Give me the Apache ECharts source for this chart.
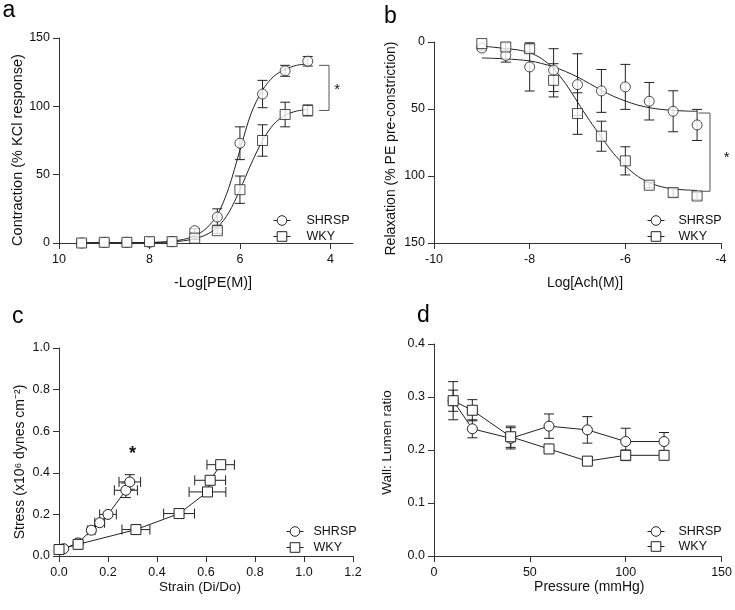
<!DOCTYPE html>
<html>
<head>
<meta charset="utf-8">
<script src="https://cdn.jsdelivr.net/npm/echarts@6/dist/echarts.min.js"></script>
<style>
  html, body { margin: 0; padding: 0; background: #fff; }
  #chart { width: 735px; height: 610px; }
</style>
</head>
<body>
<div id="chart"></div>
<script>
// ---- panel a: contraction to PE ----
const aDose = [9.5, 9, 8.5, 8, 7.5, 7, 6.5, 6, 5.5, 5, 4.5];
const aShrsp = [0, 0.5, 0.5, 0.5, 1, 9, 19, 73, 109, 126, 133];
const aShrspErr = [0, 0, 0, 0, 0, 1.5, 6, 12, 10, 4, 3.5];
const aWky = [0, 0.5, 0.5, 1, 1, 3.5, 9, 39, 75, 94, 97];
const aWkyErr = [0, 0, 0, 0, 0, 1, 2, 10, 11.5, 9, 4];
// fitted curves
const aFitDose = [9.5, 9.25, 9, 8.75, 8.5, 8.25, 8, 7.75, 7.5, 7.25, 7, 6.75, 6.5, 6.25, 6, 5.75, 5.5, 5.25, 5, 4.75, 4.5];
const aShrspFit = [0.2, 0.2, 0.2, 0.2, 0.2, 0.3, 0.35, 0.7, 1.3, 2.6, 5.2, 10.5, 20.5, 40, 68, 95, 112, 122, 127, 130, 131];
const aWkyFit = [0.2, 0.2, 0.2, 0.2, 0.2, 0.25, 0.3, 0.45, 0.8, 1.6, 3.1, 6, 11.4, 22, 39, 58, 75, 87, 93.5, 96.5, 97.7];
const aTicks = [4, 6, 8, 10];

// ---- panel b: relaxation to Ach ----
const bDose = [-9, -8.5, -8, -7.5, -7, -6.5, -6, -5.5, -5, -4.5];
const bShrsp = [4.5, 10, 18.6, 21, 31.8, 36.5, 33.5, 44.2, 51.7, 61.9];
const bShrspErr = [1.5, 5, 18, 16, 23, 16, 16.8, 14, 15.3, 11.6];
const bWky = [1.2, 3.7, 5, 28.6, 53.4, 70.3, 88.7, 106.9, 112.4, 114.9];
const bWkyErr = [0, 3, 3, 12.4, 15.5, 11.2, 10.5, 2, 3, 2.5];
const bFitDose = [-9, -8.75, -8.5, -8.25, -8, -7.75, -7.5, -7.25, -7, -6.75, -6.5, -6.25, -6, -5.75, -5.5, -5.25, -5, -4.75, -4.5];
const bShrspFit = [11.9, 12.2, 12.6, 13.2, 14.1, 16, 18.6, 22, 26.1, 31, 36, 40.5, 44, 47, 49, 50.3, 51, 51.5, 51.7];
const bWkyFit = [3, 3.9, 4.9, 5.9, 8, 12.4, 19.9, 31, 44.8, 58.5, 71, 83, 92.5, 100, 105, 108, 109.6, 110.4, 110.8];

// ---- panel c: stress / strain ----
const cShrspX = [0.019, 0.078, 0.132, 0.166, 0.2, 0.273, 0.289];
const cShrspY = [0.035, 0.063, 0.124, 0.16, 0.2, 0.316, 0.356];
const cShrspXErr = [0.005, 0.01, 0.015, 0.02, 0.034, 0.047, 0.044];
const cShrspYErr = [0.005, 0.005, 0.01, 0.01, 0.01, 0.035, 0.035];
const cWkyX = [0.0, 0.078, 0.314, 0.49, 0.606, 0.617, 0.66];
const cWkyY = [0.031, 0.056, 0.127, 0.204, 0.308, 0.364, 0.439];
const cWkyXErr = [0.005, 0.01, 0.057, 0.063, 0.075, 0.063, 0.056];
const cWkyYErr = [0, 0.005, 0.005, 0.005, 0.01, 0.01, 0.01];

// ---- panel d: wall:lumen vs pressure ----
const dPressure = [10, 20, 40, 60, 80, 100, 120];
const dShrsp = [0.293, 0.24, 0.222, 0.245, 0.238, 0.216, 0.216];
const dShrspErr = [0.036, 0.017, 0.02, 0.023, 0.025, 0.025, 0.017];
const dWky = [0.293, 0.275, 0.225, 0.202, 0.179, 0.19, 0.19];
const dWkyErr = [0.02, 0.02, 0.02, 0.004, 0.004, 0.01, 0.006];

// significance marks: bracket [tipX, spineX, yTop, yBottom], star [x, y]
const aBracket = [4.25, 4.03, 130, 97];
const aStar = [3.85, 114.8];
const bBracket = [-4.47, -4.23, 53, 111.4];
const bStar = [-3.88, 83.8];
const cStar = [0.30, 0.508];

const FONT = "'Liberation Sans', Arial, sans-serif";
const INK = '#222';
const fix1 = v => v.toFixed(1);

function axis(gridIndex, o) {
  return {
    gridIndex: gridIndex, type: 'value', nameLocation: 'middle',
    min: o.min, max: o.max, interval: o.interval, inverse: !!o.inverse,
    name: o.name, nameGap: o.nameGap,
    nameTextStyle: { color: '#111', fontSize: o.nameSize, fontFamily: FONT, padding: o.namePad },
    axisLine: { show: true, onZero: false, lineStyle: { color: '#333', width: 1 } },
    axisTick: { show: true, length: 6, lineStyle: { color: '#333' }, customValues: o.ticks },
    axisLabel: { color: '#111', fontSize: 12.5, fontFamily: FONT, margin: o.margin, formatter: o.fmt, customValues: o.ticks },
    splitLine: { show: false }
  };
}

function zip(xs, ys) { return xs.map((x, i) => [x, ys[i]]); }

function errRender(params, api) {
  const x = api.value(0), y = api.value(1), ex = api.value(2), ey = api.value(3);
  const st = { stroke: INK, lineWidth: 1, fill: null };
  const cap = 5;
  const kids = [];
  const seg = (x1, y1, x2, y2) => kids.push({ type: 'line', shape: { x1, y1, x2, y2 }, style: st });
  if (ey > 0) {
    const p = api.coord([x, y + ey]), q = api.coord([x, y - ey]);
    seg(p[0], p[1], q[0], q[1]);
    seg(p[0] - cap, p[1], p[0] + cap, p[1]);
    seg(q[0] - cap, q[1], q[0] + cap, q[1]);
  }
  if (ex > 0) {
    const p = api.coord([x - ex, y]), q = api.coord([x + ex, y]);
    seg(p[0], p[1], q[0], q[1]);
    seg(p[0], p[1] - cap, p[0], p[1] + cap);
    seg(q[0], q[1] - cap, q[0], q[1] + cap);
  }
  return { type: 'group', children: kids };
}

function errors(idx, xs, ys, xe, ye) {
  return {
    type: 'custom', name: 'err', xAxisIndex: idx, yAxisIndex: idx, z: 2, silent: true,
    encode: { x: 0, y: 1 },
    data: xs.map((x, i) => [x, ys[i], xe ? xe[i] : 0, ye ? ye[i] : 0]),
    renderItem: errRender
  };
}

function bracket(idx, b) {
  return {
    type: 'custom', name: 'sig', xAxisIndex: idx, yAxisIndex: idx, z: 2, silent: true, clip: false,
    data: [b],
    renderItem: function (params, api) {
      const p1 = api.coord([api.value(0), api.value(2)]);
      const p2 = api.coord([api.value(1), api.value(2)]);
      const p3 = api.coord([api.value(1), api.value(3)]);
      const p4 = api.coord([api.value(0), api.value(3)]);
      return { type: 'polyline', shape: { points: [p1, p2, p3, p4] }, style: { stroke: '#555', lineWidth: 1, fill: null } };
    }
  };
}

function star(idx, s, size, weight) {
  return {
    type: 'custom', name: 'star', xAxisIndex: idx, yAxisIndex: idx, z: 5, silent: true, clip: false,
    data: [s],
    renderItem: function (params, api) {
      const p = api.coord([api.value(0), api.value(1)]);
      return { type: 'text', x: p[0], y: p[1] + size * 0.22,
        style: { text: '*', fontSize: size, fontWeight: weight, fontFamily: FONT, fill: '#111', align: 'center', verticalAlign: 'middle' } };
    }
  };
}

const markerStyle = { color: '#fff', borderColor: INK, borderWidth: 1 };

function fit(idx, name, symbol, xs, ys) {
  return {
    type: 'line', name: name, xAxisIndex: idx, yAxisIndex: idx, z: 3,
    data: zip(xs, ys), smooth: 0.3,
    symbol: symbol, showSymbol: false, itemStyle: markerStyle,
    lineStyle: { color: INK, width: 1 }, emphasis: { disabled: true }, silent: true
  };
}

function points(idx, name, symbol, xs, ys) {
  return {
    type: 'scatter', name: name, xAxisIndex: idx, yAxisIndex: idx, z: 4,
    data: zip(xs, ys), symbol: symbol, symbolSize: 10,
    itemStyle: markerStyle, emphasis: { disabled: true }, silent: true
  };
}

function connected(idx, name, symbol, xs, ys) {
  return {
    type: 'line', name: name, xAxisIndex: idx, yAxisIndex: idx, z: 4,
    data: zip(xs, ys), symbol: symbol, symbolSize: 10, showSymbol: true, showAllSymbol: true,
    itemStyle: markerStyle, lineStyle: { color: INK, width: 1 },
    emphasis: { disabled: true }, silent: true, clip: false
  };
}

function legendAt(left, top, gap, pad) {
  return {
    left: left, top: top, orient: 'vertical', data: ['SHRSP', 'WKY'],
    itemWidth: 17, itemHeight: 12, itemGap: gap, selectedMode: false,
    itemStyle: { color: '#fff', borderColor: INK, borderWidth: 1 },
    lineStyle: { color: INK, width: 1 },
    textStyle: { color: '#111', fontSize: 12.5, fontFamily: FONT, padding: [0, 0, 0, pad] }
  };
}

function panelLabel(text, x, y) {
  return { type: 'text', x: x, y: y, style: { text: text, fontSize: 23, fontFamily: FONT, fill: '#000', align: 'left', verticalAlign: 'middle' } };
}

const chart = echarts.init(document.getElementById('chart'), null, { renderer: 'canvas' });

chart.setOption({
  animation: false,
  textStyle: { fontFamily: FONT },
  grid: [
    { left: 59, top: 38, width: 294, height: 205 },
    { left: 434, top: 42, width: 287, height: 201 },
    { left: 59, top: 348, width: 294, height: 208 },
    { left: 434, top: 344, width: 293, height: 212 }
  ],
  xAxis: [
    axis(0, { min: 3.5, max: 10, inverse: true, ticks: aTicks, name: '-Log[PE(M)]', nameGap: 32, nameSize: 14.5, namePad: [0, 0, 0, 14], margin: 10 }),
    axis(1, { min: -10, max: -4, interval: 2, name: 'Log[Ach(M)]', nameGap: 33, nameSize: 14, namePad: [0, 0, 0, 15], margin: 10 }),
    axis(2, { min: 0, max: 1.2, interval: 0.2, fmt: fix1, name: 'Strain (Di/Do)', nameGap: 22, nameSize: 13.5, namePad: [0, 12, 0, 0], margin: 10 }),
    axis(3, { min: 0, max: 150, interval: 50, name: 'Pressure (mmHg)', nameGap: 21, nameSize: 14, namePad: [0, 0, 0, 23], margin: 10 })
  ],
  yAxis: [
    axis(0, { min: 0, max: 150, interval: 50, name: 'Contraction (% KCl response)', nameGap: 33, nameSize: 14.5, namePad: [0, 19, 0, 0], margin: 9 }),
    axis(1, { min: 0, max: 150, interval: 50, inverse: true, name: 'Relaxation (% PE pre-constriction)', nameGap: 36, nameSize: 14, namePad: [0, 12, 0, 0], margin: 9 }),
    axis(2, { min: 0, max: 1, interval: 0.2, fmt: fix1, name: 'Stress (x10⁶ dynes cm⁻²)', nameGap: 32, nameSize: 14, namePad: [0, 20, 0, 0], margin: 9 }),
    axis(3, { min: 0, max: 0.4, interval: 0.1, fmt: fix1, name: 'Wall: Lumen ratio', nameGap: 40, nameSize: 13.5, namePad: [0, 0, 0, 15], margin: 9 })
  ],
  legend: [
    legendAt(268, 209, 3, 11),
    legendAt(642, 209, 3, 9),
    legendAt(281, 520, 3, 5),
    legendAt(642, 520, 2, 9)
  ],
  graphic: [
    panelLabel('a', 2.5, 11),
    panelLabel('b', 384, 16.5),
    panelLabel('c', 12, 316.5),
    panelLabel('d', 417, 316)
  ],
  series: [
    // fitted curves first so the legend takes its icon from them
    fit(0, 'SHRSP', 'circle', aFitDose, aShrspFit),
    fit(0, 'WKY', 'rect', aFitDose, aWkyFit),
    errors(0, aDose, aShrsp, null, aShrspErr),
    errors(0, aDose, aWky, null, aWkyErr),
    points(0, 'SHRSP', 'circle', aDose, aShrsp),
    points(0, 'WKY', 'rect', aDose, aWky),
    bracket(0, aBracket),
    star(0, aStar, 15, 'normal'),

    fit(1, 'SHRSP', 'circle', bFitDose, bShrspFit),
    fit(1, 'WKY', 'rect', bFitDose, bWkyFit),
    errors(1, bDose, bShrsp, null, bShrspErr),
    errors(1, bDose, bWky, null, bWkyErr),
    points(1, 'SHRSP', 'circle', bDose, bShrsp),
    points(1, 'WKY', 'rect', bDose, bWky),
    bracket(1, bBracket),
    star(1, bStar, 15, 'normal'),

    errors(2, cShrspX, cShrspY, cShrspXErr, cShrspYErr),
    errors(2, cWkyX, cWkyY, cWkyXErr, cWkyYErr),
    connected(2, 'SHRSP', 'circle', cShrspX, cShrspY),
    connected(2, 'WKY', 'rect', cWkyX, cWkyY),
    star(2, cStar, 18, 'bold'),

    errors(3, dPressure, dShrsp, null, dShrspErr),
    errors(3, dPressure, dWky, null, dWkyErr),
    connected(3, 'SHRSP', 'circle', dPressure, dShrsp),
    connected(3, 'WKY', 'rect', dPressure, dWky)
  ]
});
</script>
</body>
</html>
